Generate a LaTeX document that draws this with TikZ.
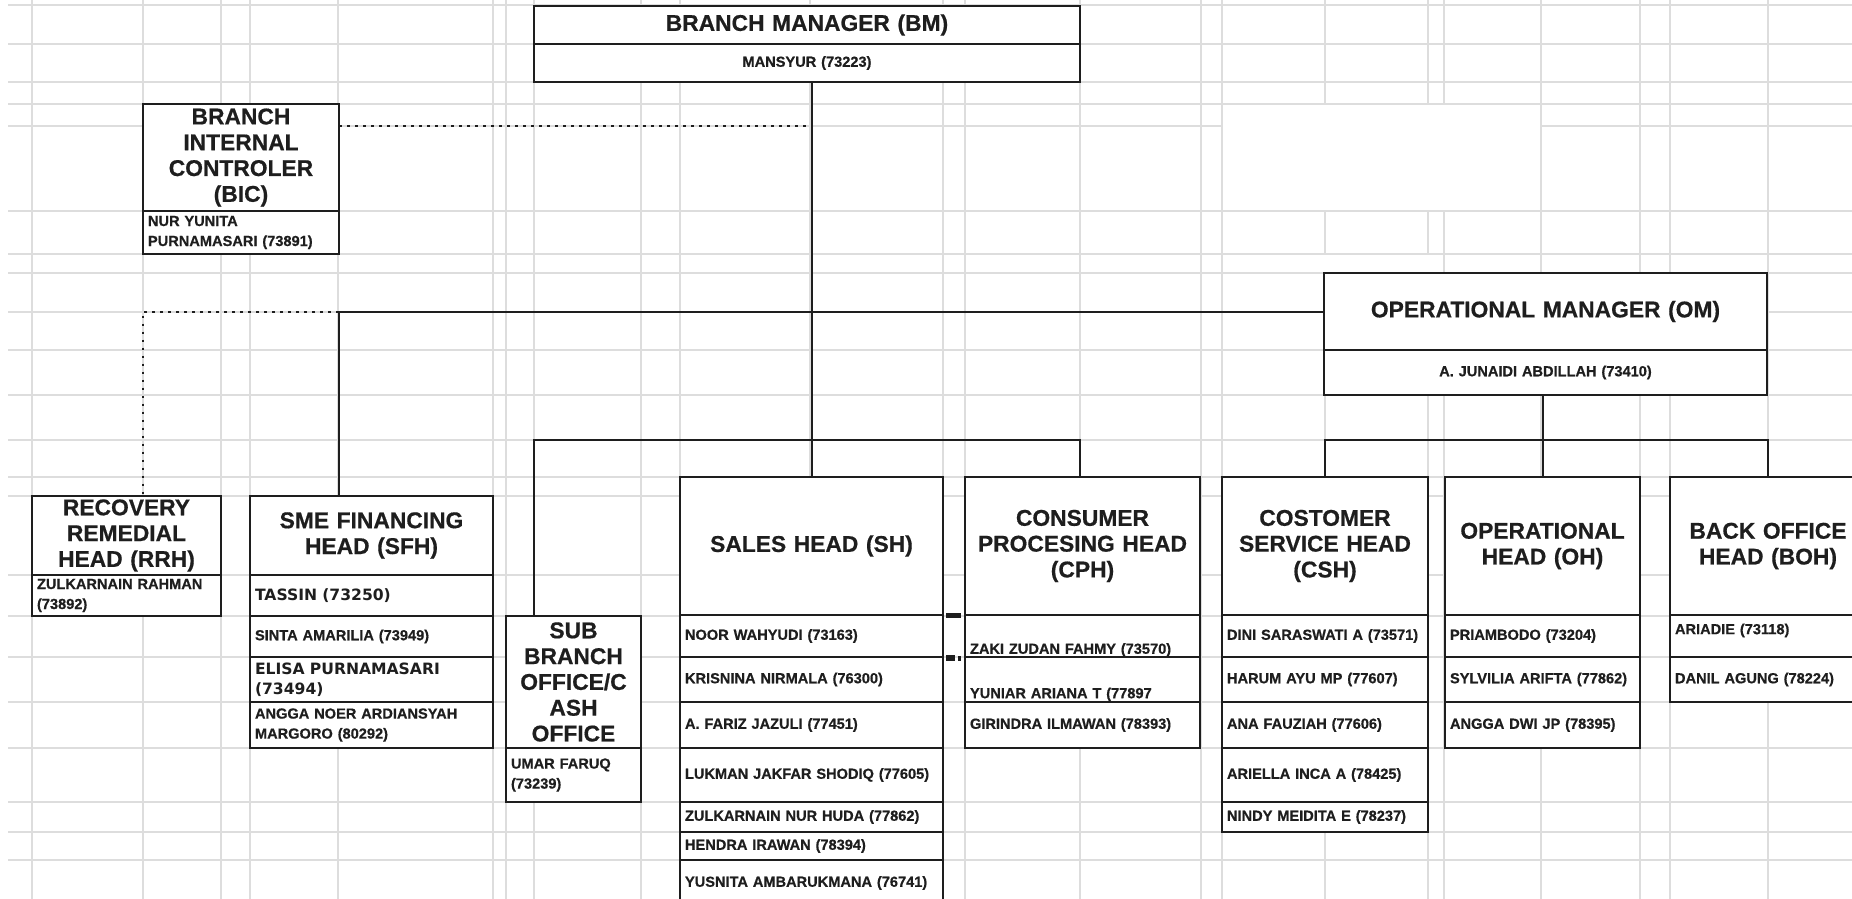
\documentclass[tikz,border=0pt]{standalone}
\usepackage{fontspec}
\setmainfont{Liberation Sans}[BoldFeatures={FakeBold=0.6}]
\newfontfamily\heavyfont{DejaVu Sans}
\definecolor{ink}{HTML}{1E1E1E}
\definecolor{gridgray}{HTML}{DDDDDD}
\newcommand{\orgtitle}{\fontsize{11.4}{12.9}\selectfont\bfseries}
\newcommand{\orgstaff}{\fontsize{7.3}{10}\selectfont\bfseries}
\newcommand{\orgheavy}{\heavyfont\fontsize{7.8}{10}\selectfont\bfseries}
\tikzset{
  cellbox/.style 2 args={draw=ink, line width=1.2pt, fill=white, text=ink,
    anchor=north west, outer sep=0pt, inner xsep=2.5pt, inner ysep=1pt,
    minimum width=#1*0.5pt, minimum height=#2*0.5pt, text width=#1*0.5pt-5pt},
  titlecell/.style 2 args={cellbox={#1}{#2}, font=\orgtitle, align=center},
  staffcell/.style 2 args={cellbox={#1}{#2}, font=\orgstaff, align=left},
  link/.style={draw=ink, line width=1pt},
  dotlink/.style={link, dash pattern=on 1.4pt off 2.6pt},
  gridline/.style={draw=gridgray, line width=0.9pt}
}
\begin{document}
\begin{tikzpicture}[x=0.5pt, y=-0.5pt]
        \useasboundingbox (0,0) rectangle (1852,899);
        \clip (0,0) rectangle (1852,899);
        \fill[white] (0,0) rectangle (1852,899);

        % Sheet grid
        \foreach \gx in {31.6,143,220.6,250,338,493,506,533.7,641,680,810,943,964.6,1080,1200.6,1221.8,1324.7,1428,1444,1541,1640,1670,1768}
          \draw[gridline] (\gx,0) -- (\gx,899);
        \foreach \gy in {5,44,82.3,104,125.7,211,254,273,312,350,395,440,477,496,575,616,657,702,748,802,832,860}
          \draw[gridline] (8,\gy) -- (1852,\gy);
        \fill[white] (1223,105) rectangle (1540,210);
        \fill[white] (1223,255) rectangle (1443,272);

        % Branch manager
        \node[titlecell={546}{38}] (bm) at (534,6) {BRANCH MANAGER (BM)};
        \node[staffcell={546}{38}, align=center] (bm1) at (bm.south west) {MANSYUR (73223)};

        % Branch internal controler
        \node[titlecell={196}{107}] (bic) at (143,104) {BRANCH\\INTERNAL\\CONTROLER\\(BIC)};
        \node[staffcell={196}{43}] (bic1) at (bic.south west) {NUR YUNITA\\PURNAMASARI (73891)};

        % Operational manager
        \node[titlecell={443}{77}] (om) at (1324,273) {OPERATIONAL MANAGER (OM)};
        \node[staffcell={443}{45}, align=center] (om1) at (om.south west) {A. JUNAIDI ABDILLAH (73410)};

        % Recovery remedial head
        \node[titlecell={189}{79}] (rrh) at (32,496) {RECOVERY\\REMEDIAL\\HEAD (RRH)};
        \node[staffcell={189}{41}] (rrh1) at (rrh.south west) {ZULKARNAIN RAHMAN\\(73892)};

        % SME financing head
        \node[titlecell={243}{79}] (sfh) at (250,496) {SME FINANCING\\HEAD (SFH)};
        \node[staffcell={243}{41}, font=\orgheavy] (sfh1) at (sfh.south west) {TASSIN (73250)};
        \node[staffcell={243}{41}] (sfh2) at (sfh1.south west) {SINTA AMARILIA (73949)};
        \node[staffcell={243}{45}, font=\orgheavy] (sfh3) at (sfh2.south west) {ELISA PURNAMASARI\\(73494)};
        \node[staffcell={243}{46}] (sfh4) at (sfh3.south west) {ANGGA NOER ARDIANSYAH\\MARGORO (80292)};

        % Sub branch office
        \node[titlecell={135}{132}] (sub) at (506,616) {SUB\\BRANCH\\OFFICE/C\\ASH\\OFFICE};
        \node[staffcell={135}{54}] (sub1) at (sub.south west) {UMAR FARUQ\\(73239)};

        % Sales head
        \node[titlecell={263}{138}] (sh) at (680,477) {SALES HEAD (SH)};
        \node[staffcell={263}{42}] (sh1) at (sh.south west) {NOOR WAHYUDI (73163)};
        \node[staffcell={263}{45}] (sh2) at (sh1.south west) {KRISNINA NIRMALA (76300)};
        \node[staffcell={263}{46}] (sh3) at (sh2.south west) {A. FARIZ JAZULI (77451)};
        \node[staffcell={263}{54}] (sh4) at (sh3.south west) {LUKMAN JAKFAR SHODIQ (77605)};
        \node[staffcell={263}{30}] (sh5) at (sh4.south west) {ZULKARNAIN NUR HUDA (77862)};
        \node[staffcell={263}{28}] (sh6) at (sh5.south west) {HENDRA IRAWAN (78394)};
        \node[staffcell={263}{46}] (sh7) at (sh6.south west) {YUSNITA AMBARUKMANA (76741)};

        % Consumer procesing head
        \node[titlecell={235}{138}] (cph) at (965,477) {CONSUMER\\PROCESING HEAD\\(CPH)};
        \node[staffcell={235}{42}, text height=17.8pt, text depth=0pt] (cph1) at (cph.south west) {ZAKI ZUDAN FAHMY (73570)};
        \node[staffcell={235}{45}, text height=18.7pt, text depth=0pt] (cph2) at (cph1.south west) {YUNIAR ARIANA T (77897};
        \node[staffcell={235}{46}] (cph3) at (cph2.south west) {GIRINDRA ILMAWAN (78393)};

        % Costomer service head
        \node[titlecell={206}{138}] (csh) at (1222,477) {COSTOMER\\SERVICE HEAD\\(CSH)};
        \node[staffcell={206}{42}] (csh1) at (csh.south west) {DINI SARASWATI A (73571)};
        \node[staffcell={206}{45}] (csh2) at (csh1.south west) {HARUM AYU MP (77607)};
        \node[staffcell={206}{46}] (csh3) at (csh2.south west) {ANA FAUZIAH (77606)};
        \node[staffcell={206}{54}] (csh4) at (csh3.south west) {ARIELLA INCA A (78425)};
        \node[staffcell={206}{30}] (csh5) at (csh4.south west) {NINDY MEIDITA E (78237)};

        % Operational head
        \node[titlecell={195}{138}] (oh) at (1445,477) {OPERATIONAL\\HEAD (OH)};
        \node[staffcell={195}{42}] (oh1) at (oh.south west) {PRIAMBODO (73204)};
        \node[staffcell={195}{45}] (oh2) at (oh1.south west) {SYLVILIA ARIFTA (77862)};
        \node[staffcell={195}{46}] (oh3) at (oh2.south west) {ANGGA DWI JP (78395)};

        % Back office head
        \node[titlecell={196}{138}] (boh) at (1670,477) {BACK OFFICE\\HEAD (BOH)};
        \node[staffcell={196}{42}, text height=5.5pt, text depth=7.3pt] (boh1) at (boh.south west) {ARIADIE (73118)};
        \node[staffcell={196}{45}] (boh2) at (boh1.south west) {DANIL AGUNG (78224)};

        % Lines of command
        \coordinate (bicdot) at ([yshift=-11pt]bic.north east);
        \coordinate (jl) at (bic.east |- om.west);
        \coordinate (jr) at (bic.west |- om.west);
        \coordinate (bus) at (0,440);
        \coordinate (subtop) at ([xshift=14pt]sub.north west);
        \coordinate (cphtop) at ([xshift=-1.2pt]cph.north);
        \draw[link] (sh.north |- bm1.south) -- (sh.north);
        \draw[dotlink] (bicdot) -- (bicdot -| sh.north);
        \draw[link] (om.west) -- (jl) -- (jl |- sfh.north);
        \draw[dotlink] (jl) -- (jr) -- (jr |- rrh.north);
        \draw[link] (subtop) -- (subtop |- bus) -- (cphtop |- bus) -- (cphtop);
        \draw[link] (oh.north |- om1.south) -- (oh.north);
        \draw[link] (csh.north) -- (csh.north |- bus) -- (boh.north |- bus) -- (boh.north);

        % Cell selection marks
        \fill[ink] (946,613) rectangle (961,618);
        \fill[ink] (946,655) rectangle (955,661);
        \fill[ink] (958,656) rectangle (961,661);
\end{tikzpicture}
\end{document}
